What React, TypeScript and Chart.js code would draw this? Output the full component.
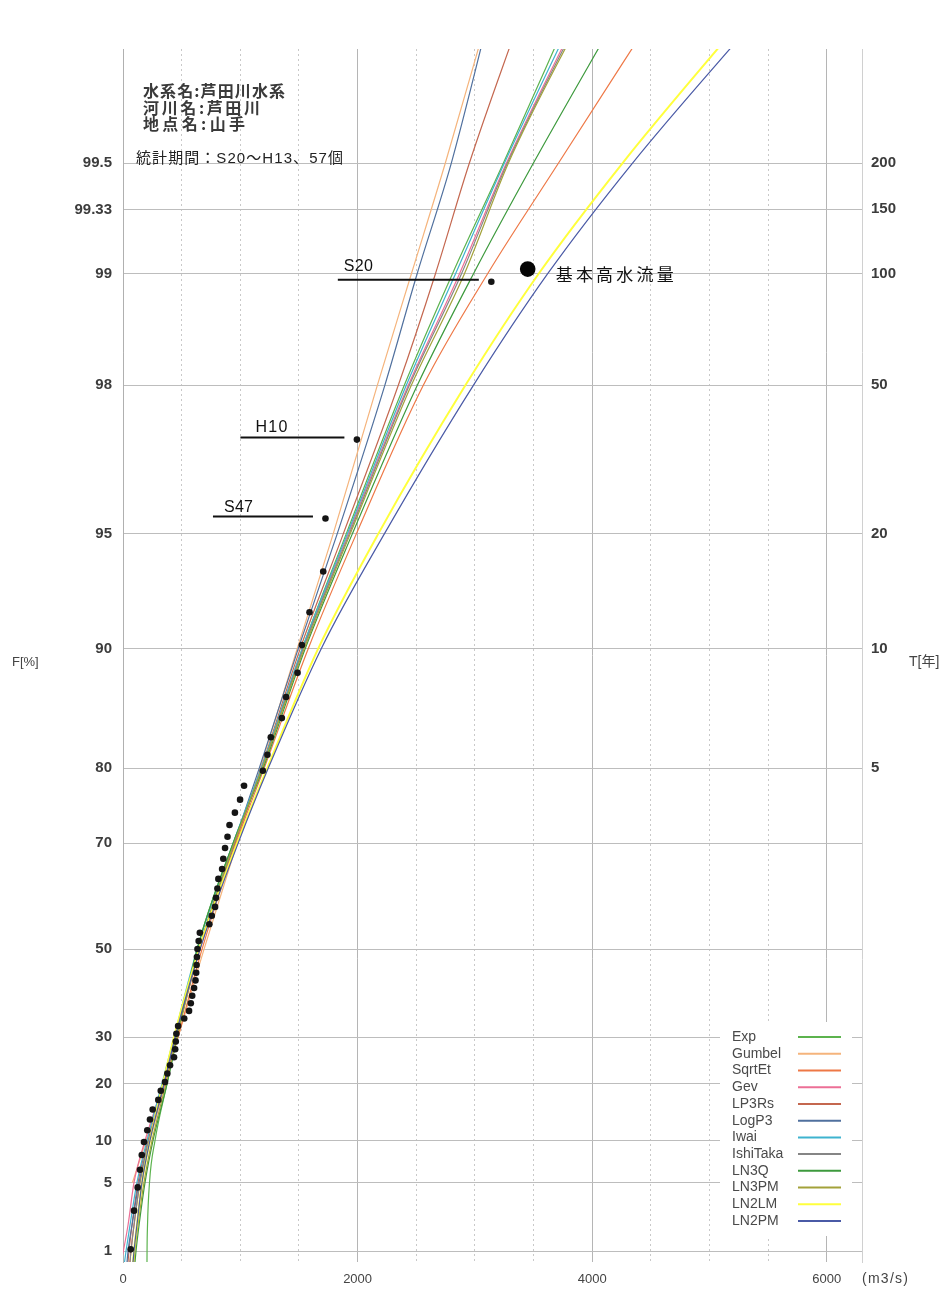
import React, { useEffect, useRef } from 'react';
import { Chart, registerables } from 'chart.js';
Chart.register(...registerables);

// ---- axis ticks ----
const F_TICKS = [1, 5, 10, 20, 30, 50, 70, 80, 90, 95, 98, 99, 99.33, 99.5];
const F_TICK_LABELS = ['1', '5', '10', '20', '30', '50', '70', '80', '90', '95', '98', '99', '99.33', '99.5'];
const T_TICKS = [5, 10, 20, 50, 100, 150, 200];
const X_TICKS = [0, 500, 1000, 1500, 2000, 2500, 3000, 3500, 4000, 4500, 5000, 5500, 6000];

// ---- observed annual maxima (sorted, largest first) and plotting positions F[%] ----
const OBS_Q = [3140, 1994, 1726, 1707, 1590, 1525, 1488, 1391, 1354, 1260, 1231, 1192, 1032, 998, 954, 908, 891, 870, 855, 845,
  813, 805, 793, 785, 757, 736, 655, 645, 635, 630, 627, 624, 618, 606, 590, 578, 563, 522, 470, 455,
  450, 445, 435, 401, 378, 358, 322, 301, 253, 230, 207, 179, 160, 145, 125, 94, 66];
const OBS_F = [98.95, 97.20, 95.45, 93.71, 91.96, 90.21, 88.46, 86.71, 84.97, 83.22, 81.47, 79.72, 77.97, 76.22, 74.48, 72.73,
  70.98, 69.23, 67.48, 65.73, 63.99, 62.24, 60.49, 58.74, 56.99, 55.24, 53.50, 51.75, 50.00, 48.25, 46.50, 44.76,
  43.01, 41.26, 39.51, 37.76, 36.01, 34.27, 32.52, 30.77, 29.02, 27.27, 25.52, 23.78, 22.03, 20.28, 18.53, 16.78,
  15.03, 13.29, 11.54, 9.79, 8.04, 6.29, 4.55, 2.80, 1.05];

// ---- design flood (基本高水流量) ----
const DESIGN_Q = 3450;
const DESIGN_F = 99.03;

// ---- fitted distributions: discharge at non-exceedance levels ----
const CURVE_F = [0.5, 1, 2, 5, 10, 20, 30, 50, 70, 80, 90, 95, 98, 99, 99.5, 99.8];
const GUMBEL_F = [5, 10, 20, 30, 50, 70, 80, 90, 95, 98, 99, 99.5, 99.8];
const Q_EXP = [204, 205, 209, 226, 273, 376, 461, 632, 939, 1186, 1528, 1903, 2398, 2808, 3243, 3798];
const Q_GUMBEL = [81, 196, 341, 469, 691, 973, 1169, 1485, 1792, 2168, 2458, 2748, 3107];
const Q_SQRTET = [51, 68, 94, 145, 230, 358, 469, 674, 964, 1203, 1579, 1989, 2560, 3107, 3713, 4515];
const Q_GEV = [-34, 3, 43, 94, 188, 341, 444, 649, 947, 1186, 1536, 1920, 2432, 2868, 3269, 3875];
const Q_LP3RS = [34, 51, 77, 128, 213, 350, 452, 657, 956, 1178, 1511, 1878, 2347, 2663, 2953, 3388];
const Q_LOGP3 = [26, 43, 77, 137, 222, 350, 444, 649, 947, 1161, 1494, 1826, 2232, 2507, 2799, 3119];
const Q_IWAI = [0, 26, 60, 119, 205, 333, 435, 632, 939, 1178, 1528, 1912, 2415, 2834, 3252, 3841];
const Q_ISHITAKA = [51, 68, 94, 145, 222, 350, 452, 649, 947, 1186, 1536, 1929, 2441, 2885, 3277, 3892];
const Q_LN3Q = [94, 111, 137, 188, 256, 376, 461, 632, 939, 1195, 1553, 1955, 2509, 2987, 3499, 4208];
const Q_LN3PM = [85, 102, 128, 179, 248, 367, 461, 649, 947, 1186, 1545, 1937, 2458, 2910, 3286, 3909];
const Q_LN2LM = [77, 94, 119, 162, 230, 341, 435, 649, 973, 1229, 1664, 2176, 2919, 3542, 4259, 5300];
const Q_LN2PM = [77, 94, 119, 162, 230, 350, 444, 657, 982, 1238, 1690, 2228, 2987, 3619, 4344, 5411];

const SERIES = [
  { name: 'Exp', f: CURVE_F, q: Q_EXP, color: '#5cb34e' },
  { name: 'Gumbel', f: GUMBEL_F, q: Q_GUMBEL, color: '#f5b47c' },
  { name: 'SqrtEt', f: CURVE_F, q: Q_SQRTET, color: '#ee7846' },
  { name: 'Gev', f: CURVE_F, q: Q_GEV, color: '#ec6f96' },
  { name: 'LP3Rs', f: CURVE_F, q: Q_LP3RS, color: '#c4674f' },
  { name: 'LogP3', f: CURVE_F, q: Q_LOGP3, color: '#50709e' },
  { name: 'Iwai', f: CURVE_F, q: Q_IWAI, color: '#3fb3cf' },
  { name: 'IshiTaka', f: CURVE_F, q: Q_ISHITAKA, color: '#858585' },
  { name: 'LN3Q', f: CURVE_F, q: Q_LN3Q, color: '#3d9a3d' },
  { name: 'LN3PM', f: CURVE_F, q: Q_LN3PM, color: '#a3a23a' },
  { name: 'LN2LM', f: CURVE_F, q: Q_LN2LM, color: '#ffff3c' },
  { name: 'LN2PM', f: CURVE_F, q: Q_LN2PM, color: '#4a5aa6' },
];

// Gumbel reduced variate (the probability-paper transform of the y axis)
const gv = (fPct: number) => -Math.log(-Math.log(fPct / 100));
const Y_MIN = -1.596;
const Y_MAX = 6.011;

const LATIN = "'Liberation Sans', Arial, sans-serif";
const MIXED = "'Liberation Sans', 'Noto Sans CJK JP', sans-serif";
const CJK = "'Noto Sans CJK JP', 'Noto Sans', sans-serif";

function fitText(ctx: CanvasRenderingContext2D, text: string, x: number, y: number, w: number | null, font: string, color: string) {
  ctx.save();
  ctx.font = font;
  ctx.fillStyle = color;
  ctx.textBaseline = 'middle';
  ctx.textAlign = 'left';
  (ctx as any).letterSpacing = '0px';
  if (w !== null) {
    const m = ctx.measureText(text).width;
    const n = Array.from(text).length;
    const ls = n > 1 ? (w - m) / (n - 1) : 0;
    (ctx as any).letterSpacing = ls + 'px';
  }
  ctx.fillText(text, x, y);
  ctx.restore();
}

const decorPlugin = {
  id: 'decor',
  afterDatasetsDraw(chart: any) {
    const ctx: CanvasRenderingContext2D = chart.ctx;
    const xs = chart.scales.x;
    const ys = chart.scales.y;

    // legend box
    ctx.save();
    ctx.fillStyle = '#ffffff';
    ctx.fillRect(720, 1022, 132, 214);
    ctx.font = `14px ${LATIN}`;
    ctx.textBaseline = 'middle';
    ctx.textAlign = 'left';
    SERIES.forEach((s, i) => {
      const yy = 1037 + i * 16.73;
      ctx.fillStyle = '#4a4a4a';
      ctx.fillText(s.name, 732, yy);
      ctx.strokeStyle = s.color;
      ctx.lineWidth = 2;
      ctx.beginPath();
      ctx.moveTo(798, yy);
      ctx.lineTo(841, yy);
      ctx.stroke();
    });
    ctx.restore();

    // annotations attached to the three largest floods
    const notes = [
      { label: 'S20', idx: 0, len: 141, dx: 6, dy: -13, w: 29 },
      { label: 'H10', idx: 1, len: 104, dx: 15, dy: -10, w: 32 },
      { label: 'S47', idx: 2, len: 100, dx: 11, dy: -8.5, w: 29 },
    ];
    notes.forEach((n) => {
      const px = xs.getPixelForValue(OBS_Q[n.idx]);
      const py = ys.getPixelForValue(gv(OBS_F[n.idx]));
      const x2 = px - 12.5;
      const x1 = x2 - n.len;
      const ly = py - 2;
      ctx.save();
      ctx.strokeStyle = '#111';
      ctx.lineWidth = 2;
      ctx.beginPath();
      ctx.moveTo(x1, ly);
      ctx.lineTo(x2, ly);
      ctx.stroke();
      ctx.restore();
      fitText(ctx, n.label, x1 + n.dx, ly + n.dy, n.w, `16px ${LATIN}`, '#111');
    });

    // design flood label
    const dpx = xs.getPixelForValue(DESIGN_Q);
    const dpy = ys.getPixelForValue(gv(DESIGN_F));
    fitText(ctx, '基本高水流量', dpx + 28, dpy + 5, 118, `17px ${CJK}`, '#111');
  },
  afterDraw(chart: any) {
    const ctx: CanvasRenderingContext2D = chart.ctx;
    fitText(ctx, '水系名:芦田川水系', 143, 91, 142, `bold 16px ${CJK}`, '#3a3a3a');
    fitText(ctx, '河川名:芦田川', 143, 107.5, 117, `bold 16px ${CJK}`, '#3a3a3a');
    fitText(ctx, '地点名:山手', 143, 124, 102, `bold 16px ${CJK}`, '#3a3a3a');
    fitText(ctx, '統計期間：S20～H13、57個', 136, 158.5, 207, `15px ${MIXED}`, '#222');
    fitText(ctx, 'F[%]', 12, 662, null, `13px ${LATIN}`, '#444');
    fitText(ctx, 'T[年]', 909, 662, null, `14px ${MIXED}`, '#444');
    fitText(ctx, '(m3/s)', 862, 1279, 46, `14px ${LATIN}`, '#444');
  },
};

export default function App() {
  const ref = useRef<HTMLCanvasElement | null>(null);
  useEffect(() => {
    if (!ref.current) return;
    const datasets: any[] = [];
    datasets.push({
      label: '基本高水流量',
      data: [{ x: DESIGN_Q, y: gv(DESIGN_F) }],
      showLine: false,
      pointRadius: 7.8,
      pointBackgroundColor: '#050505',
      pointBorderWidth: 0,
    });
    datasets.push({
      label: '実績',
      data: OBS_Q.map((q, i) => ({ x: q, y: gv(OBS_F[i]) })),
      showLine: false,
      pointRadius: 3.3,
      pointBackgroundColor: '#151515',
      pointBorderWidth: 0,
    });
    SERIES.slice().reverse().forEach((s) => {
      datasets.push({
        label: s.name,
        data: s.q.map((q, i) => ({ x: q, y: gv(s.f[i]) })),
        showLine: true,
        borderColor: s.color,
        borderWidth: s.name === 'LN2LM' ? 2 : 1.2,
        pointRadius: 0,
        cubicInterpolationMode: 'monotone',
        fill: false,
      });
    });

    const chart = new Chart(ref.current, {
      type: 'scatter',
      data: { datasets },
      options: {
        animation: false,
        responsive: false,
        maintainAspectRatio: false,
        events: [],
        layout: { padding: { top: 49, left: 0, right: 0, bottom: 0 } },
        plugins: { legend: { display: false }, tooltip: { enabled: false }, title: { display: false } },
        scales: {
          x: {
            type: 'linear',
            min: 0,
            max: 6300,
            bounds: 'data',
            afterBuildTicks: (s: any) => { s.ticks = X_TICKS.map((v) => ({ value: v })); },
            afterFit: (s: any) => { s.height = 29; },
            ticks: {
              autoSkip: false,
              maxRotation: 0,
              padding: 10,
              color: '#444',
              font: { family: LATIN, size: 13 },
              callback: (v: any) => (Number(v) % 2000 === 0 ? String(v) : ''),
            },
            grid: {
              drawTicks: false,
              lineWidth: 1,
              color: (c: any) => (c.tick && c.tick.value % 2000 === 0 ? '#b5b5b5' : '#c9c9c9'),
            },
            border: {
              display: false,
              dash: (c: any) => (c.tick && c.tick.value % 2000 !== 0 ? [2, 3] : []),
            },
          },
          y: {
            type: 'linear',
            position: 'left',
            min: Y_MIN,
            max: Y_MAX,
            bounds: 'data',
            afterBuildTicks: (s: any) => { s.ticks = F_TICKS.map((f) => ({ value: gv(f) })); },
            afterFit: (s: any) => { s.width = 123; },
            ticks: {
              autoSkip: false,
              padding: 11,
              color: '#3c3c3c',
              font: { family: LATIN, size: 15, weight: 'bold' },
              callback: (_v: any, i: number) => F_TICK_LABELS[i],
            },
            grid: { drawTicks: false, color: '#bdbdbd', lineWidth: 1 },
            border: { display: true, color: '#b0b0b0', width: 1 },
          },
          y2: {
            type: 'linear',
            position: 'right',
            min: Y_MIN,
            max: Y_MAX,
            bounds: 'data',
            afterBuildTicks: (s: any) => { s.ticks = T_TICKS.map((t) => ({ value: gv(100 - 100 / t) })); },
            afterFit: (s: any) => { s.width = 89; },
            ticks: {
              autoSkip: false,
              padding: 9,
              color: '#3c3c3c',
              font: { family: LATIN, size: 15, weight: 'bold' },
              callback: (_v: any, i: number) => String(T_TICKS[i]),
            },
            grid: { display: false, drawTicks: false },
            border: { display: true, color: '#d0d0d0', width: 1 },
          },
        },
      },
      plugins: [decorPlugin],
    } as any);
    return () => chart.destroy();
  }, []);

  return (
    <div style={{ position: 'absolute', left: 0, top: 0, width: 951, height: 1291, background: '#fff' }}>
      <canvas ref={ref} width={951} height={1291} />
    </div>
  );
}
